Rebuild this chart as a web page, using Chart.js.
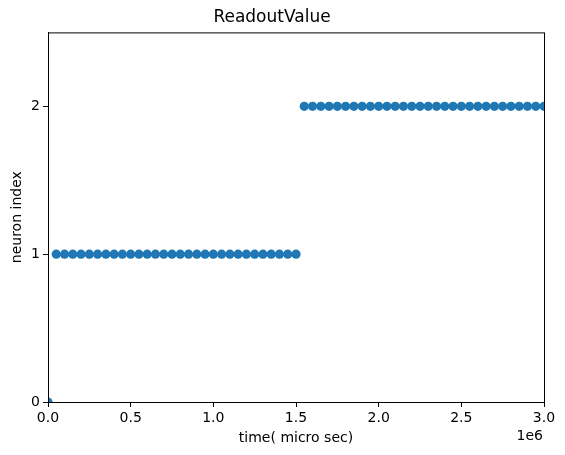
<!DOCTYPE html>
<html>
<head>
<meta charset="utf-8">
<script src="https://cdn.jsdelivr.net/npm/chart.js@4"></script>
<style>
  html, body { margin: 0; padding: 0; background: #fff; }
  #wrap { width: 565px; height: 455px; }
</style>
</head>
<body>
<div id="wrap"><canvas id="chart" width="565" height="455"></canvas></div>
<script>
// Readout spikes: time in micro sec, neuron index
const startTime = [0];
const startIndex = [0];
const group1Times = [
  50000, 100000, 150000, 200000, 250000, 300000, 350000, 400000, 450000, 500000,
  550000, 600000, 650000, 700000, 750000, 800000, 850000, 900000, 950000, 1000000,
  1050000, 1100000, 1150000, 1200000, 1250000, 1300000, 1350000, 1400000, 1450000, 1500000,
];
const group1Index = group1Times.map(() => 1);
const group2Times = [
  1550000, 1600000, 1650000, 1700000, 1750000, 1800000, 1850000, 1900000, 1950000, 2000000,
  2050000, 2100000, 2150000, 2200000, 2250000, 2300000, 2350000, 2400000, 2450000, 2500000,
  2550000, 2600000, 2650000, 2700000, 2750000, 2800000, 2850000, 2900000, 2950000, 3000000,
];
const group2Index = group2Times.map(() => 2);

const xTicks = [0, 500000, 1000000, 1500000, 2000000, 2500000, 3000000];
const yTicks = [0, 1, 2];

const BLUE = '#1f77b4';
const FONT = 'DejaVu Sans';

const allTimes = startTime.concat(group1Times, group2Times);
const allIndex = startIndex.concat(group1Index, group2Index);
const points = allTimes.map((t, i) => ({ x: t, y: allIndex[i] }));

// top/right spines + the "1e6" offset label, like matplotlib
const framePlugin = {
  id: 'frame',
  afterDraw(chart) {
    const { ctx, chartArea: a } = chart;
    ctx.save();
    ctx.strokeStyle = '#000';
    ctx.lineWidth = 1;
    ctx.strokeRect(a.left + 0.5, a.top + 0.5, a.right - a.left, a.bottom - a.top);
    ctx.fillStyle = '#000';
    ctx.font = `14px "${FONT}"`;
    ctx.textAlign = 'right';
    ctx.textBaseline = 'middle';
    ctx.fillText('1e6', a.right - 1, 436);
    ctx.restore();
  },
};

new Chart(document.getElementById('chart'), {
  type: 'scatter',
  data: {
    datasets: [{
      data: points,
      backgroundColor: BLUE,
      borderColor: BLUE,
      borderWidth: 0,
      pointRadius: 4.6,
      pointHoverRadius: 4.6,
      clip: 0,
    }],
  },
  options: {
    responsive: false,
    animation: false,
    layout: { padding: { left: 0, right: 21, top: 0, bottom: 0 } },
    plugins: {
      legend: { display: false },
      tooltip: { enabled: false },
      title: {
        display: true,
        text: 'ReadoutValue',
        color: '#000',
        font: { family: FONT, size: 17, weight: 'normal' },
        padding: { top: 7, bottom: 5 },
      },
    },
    scales: {
      x: {
        type: 'linear',
        min: 0,
        max: 3000000,
        afterBuildTicks: (s) => { s.ticks = xTicks.map((v) => ({ value: v })); },
        afterFit: (s) => { s.height = 53; },
        border: { color: '#000', width: 1 },
        grid: { drawOnChartArea: false, drawTicks: true, tickLength: 5, tickColor: '#000' },
        ticks: {
          color: '#000',
          font: { family: FONT, size: 14 },
          padding: 3,
          maxRotation: 0,
          callback: (v) => (v / 1e6).toFixed(1),
        },
        title: {
          display: true,
          text: 'time( micro sec)',
          color: '#000',
          font: { family: FONT, size: 14 },
          padding: { top: 2, bottom: 8 },
        },
      },
      y: {
        type: 'linear',
        min: 0,
        max: 2.5,
        afterBuildTicks: (s) => { s.ticks = yTicks.map((v) => ({ value: v })); },
        afterFit: (s) => { s.width = 48; },
        border: { color: '#000', width: 1 },
        grid: { drawOnChartArea: false, drawTicks: true, tickLength: 5, tickColor: '#000' },
        ticks: {
          color: '#000',
          font: { family: FONT, size: 14 },
          padding: 3,
          callback: (v) => String(v),
        },
        title: {
          display: true,
          text: 'neuron index',
          color: '#000',
          font: { family: FONT, size: 14 },
          padding: { top: 9, bottom: 0 },
        },
      },
    },
  },
  plugins: [framePlugin],
});
</script>
</body>
</html>
